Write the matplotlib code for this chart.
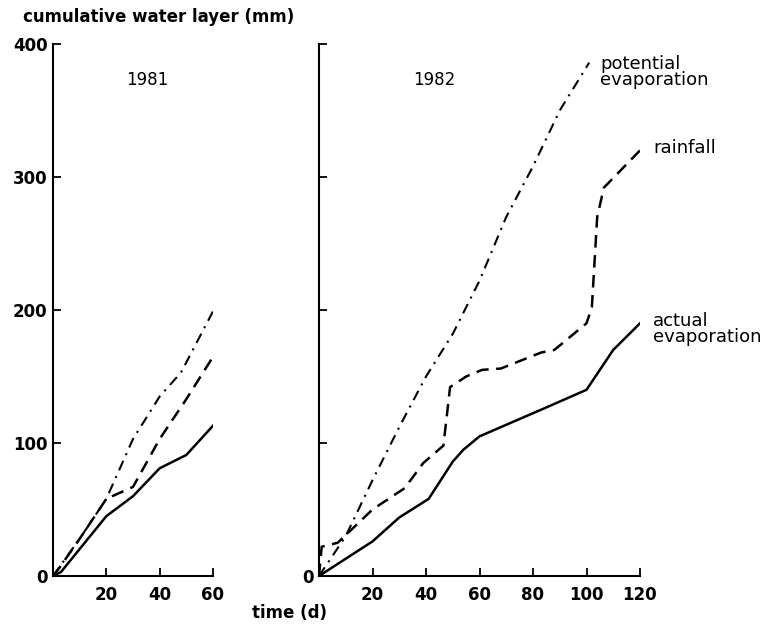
import matplotlib
matplotlib.use("Agg")
import matplotlib.pyplot as plt

# ─── data ────────────────────────────────────────────────────────────────────

# 1981
t81_act = [0, 3, 20, 30, 40, 50, 60]
act81 = [0, 3, 45, 60, 81, 91, 113]
t81_rain = [0, 2, 10, 20, 30, 40, 50, 61]
rain81 = [0, 5, 28, 58, 67, 103, 133, 168]
t81_pot = [0, 10, 20, 30, 40, 48, 60]
pot81 = [0, 28, 58, 103, 135, 153, 199]

# 1982
t82_act = [0, 10, 20, 30, 41, 50, 54, 60, 83, 100, 110, 120]
act82 = [0, 13, 26, 44, 58, 86, 95, 105, 125, 140, 170, 190]
t82_rain = [0, 1, 7, 20, 32, 39, 46.5, 49, 55, 61, 68, 83, 88, 100, 102, 104, 106.5, 120]
rain82 = [0, 22, 25, 50, 66, 85, 98, 142, 150, 155, 156, 168, 170, 190, 202, 270, 292, 320]
t82_pot = [0, 10, 20, 30, 40, 50, 60, 70, 80, 90, 101]
pot82 = [0, 30, 72, 112, 150, 182, 222, 270, 308, 350, 386]

y_ticks = [0, 100, 200, 300, 400]
x_ticks81 = [20, 40, 60]
x_ticks82 = [20, 40, 60, 80, 100, 120]

plt.rcParams["font.family"] = "DejaVu Sans"

W, H = 763, 625
fig = plt.figure(figsize=(W / 100, H / 100), dpi=100)

y0_px, y400_px = 576, 44
bottom = 1 - y0_px / H
height = (y0_px - y400_px) / H
ax1 = fig.add_axes([53 / W, bottom, 160 / W, height])
ax2 = fig.add_axes([319 / W, bottom, 321 / W, height])

solid = dict(color="black", lw=1.8, ls="-")
dashed = dict(color="black", lw=1.8, ls=(0, (5, 3)))
dashdot = dict(color="black", lw=1.5, ls=(0, (5, 3, 1, 3)))

ax1.plot(t81_act, act81, **solid)
ax1.plot(t81_rain, rain81, **dashed)
ax1.plot(t81_pot, pot81, **dashdot)

ax2.plot(t82_act, act82, **solid)
ax2.plot(t82_rain, rain82, **dashed)
ax2.plot(t82_pot, pot82, **dashdot)

for ax, xmax, xt in [(ax1, 60, x_ticks81), (ax2, 120, x_ticks82)]:
    ax.set_xlim(0, xmax)
    ax.set_ylim(0, 400)
    for s in ["top", "right"]:
        ax.spines[s].set_visible(False)
    for s in ["left", "bottom"]:
        ax.spines[s].set_linewidth(1.5)
    ax.set_xticks(xt)
    ax.set_yticks(y_ticks)
    ax.tick_params(direction="in", length=6, width=1.3, labelsize=12, pad=7)
    ax.patch.set_alpha(0)
    for lab in ax.get_xticklabels():
        lab.set_fontweight("bold")

ax1.set_yticklabels([str(v) for v in y_ticks], fontweight="bold")
ax2.set_yticklabels(["0"] + [""] * (len(y_ticks) - 1), fontweight="bold")
ax1.tick_params(axis="y", pad=4)
ax2.tick_params(axis="y", pad=4)

ax1.text(35.5, 373, "1981", fontsize=12, ha="center", va="center")
ax2.text(43, 373, "1982", fontsize=12, ha="center", va="center")

fig.text(23 / W, 1 - 17 / H, "cumulative water layer (mm)", fontsize=12,
         ha="left", va="center", fontweight="bold")
fig.text(290 / W, 1 - 613 / H, "time (d)", fontsize=12, ha="center",
         va="center", fontweight="bold")

fig.text(600 / W, 1 - 72 / H, "potential\nevaporation", fontsize=13,
         ha="left", va="center", linespacing=0.9)
fig.text(653 / W, 1 - 148 / H, "rainfall", fontsize=13, ha="left", va="center")
fig.text(653 / W, 1 - 329 / H, "actual\nevaporation", fontsize=13,
         ha="left", va="center", linespacing=0.9)

fig.savefig("out.png", dpi=100)
